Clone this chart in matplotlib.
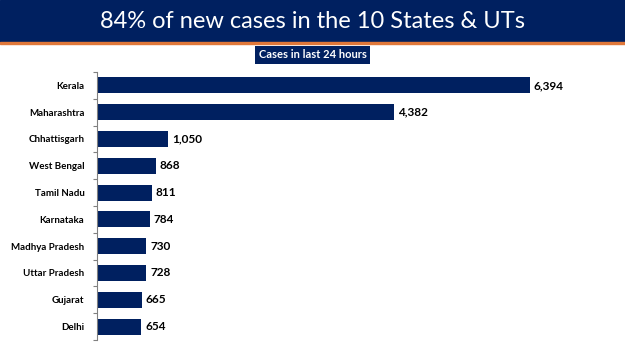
import matplotlib.pyplot as plt
from matplotlib.patches import Rectangle

states = ['Kerala', 'Maharashtra', 'Chhattisgarh', 'West Bengal', 'Tamil Nadu',
          'Karnataka', 'Madhya Pradesh', 'Uttar Pradesh', 'Gujarat', 'Delhi']
cases = [6394, 4382, 1050, 868, 811, 784, 730, 728, 665, 654]

navy = '#002060'

fig = plt.figure(figsize=(6.25, 3.51), dpi=100)

# title banner
fig.patches.append(Rectangle((0, 1 - 42/351), 1, 42/351, transform=fig.transFigure,
                             color=navy, zorder=0))
fig.patches.append(Rectangle((0, 1 - 43.5/351), 1, 1.5/351, transform=fig.transFigure,
                             color='#E0783A', zorder=0))
fig.text(0.5, 1 - 21/351, '84% of new cases in the 10 States & UTs', color='white',
         fontsize=17, family='Lato', ha='center', va='center')

# subtitle box
fig.text(0.5, 1 - 55/351, 'Cases in last 24 hours', color='white', fontsize=8,
         family='Lato', weight='bold', ha='center', va='center',
         bbox=dict(boxstyle='square,pad=0.3', fc=navy, ec='none'))

ax = fig.add_axes([97/625, 1 - 340/351, 508/625, 268/351])
y = range(len(states))
ax.barh(y, cases, height=0.6, color=navy)
ax.set_xlim(0, 7500)
ax.set_ylim(len(states) - 0.5, -0.5)
ax.set_yticks([i - 0.5 for i in range(len(states) + 1)])
ax.set_yticklabels([])
ax.set_yticks(list(y), minor=True)
ax.set_yticklabels(states, minor=True, fontsize=7, weight='bold', family='Lato')
ax.tick_params(axis='y', which='minor', length=0, pad=9)
ax.tick_params(axis='y', which='major', length=3, width=0.8, color='#808080')
ax.set_xticks([])
for s in ['top', 'right', 'bottom']:
    ax.spines[s].set_visible(False)
ax.spines['left'].set_color('#808080')

for i, v in enumerate(cases):
    ax.text(v + 55, i, f'{v:,}', va='center', ha='left', fontsize=8.5,
            weight='bold', family='Lato')

fig.savefig('out.png', dpi=100)
